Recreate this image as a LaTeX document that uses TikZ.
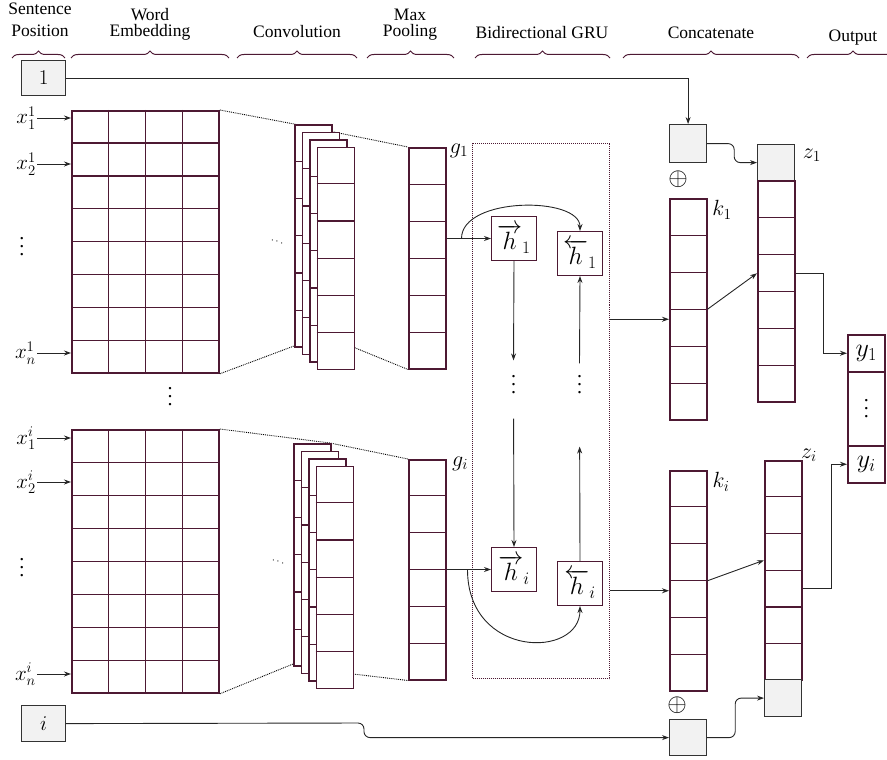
\RequirePackage{fix-cm}
\documentclass[tikz,border=0pt]{standalone}
\usepackage[no-math]{fontspec}
\setmainfont{Liberation Serif}
\usetikzlibrary{calc, arrows.meta, decorations.pathreplacing}

\definecolor{wine}{RGB}{77,25,51}
\definecolor{cellgray}{RGB}{242,242,242}

\tikzset{
  vec/.style={draw=wine, line width=1.5pt, fill=white, anchor=north west,
    inner sep=0pt, minimum width=37pt},
  gridline/.style={draw=wine, line width=1.1pt},
  grey/.style={draw=black!80, line width=1.2pt, fill=cellgray, anchor=north west,
    inner sep=0pt, minimum width=37pt, minimum height=37pt},
  hbox/.style={draw=wine, line width=1pt, anchor=north west, inner sep=0pt,
    minimum width=45pt, minimum height=44pt, font=\fontsize{25}{27}\selectfont},
  link/.style={draw=black!85, line width=0.9pt, -{Stealth[length=7pt,width=5pt]}},
  dotline/.style={densely dotted, line width=0.9pt},
  brace/.style={decorate, decoration={brace, amplitude=7pt}, draw=wine, line width=1pt},
  head/.style={anchor=base, font=\fontsize{17.5}{20}\selectfont},
  lbl/.style={font=\fontsize{22}{24}\selectfont},
  plus/.style={font=\fontsize{25}{27}\selectfont},
  xlbl/.style={anchor=east, inner sep=1pt, font=\fontsize{21}{23}\selectfont},
  vdot/.style={inner sep=0pt, scale=2, font=\fontsize{10}{12}\selectfont},
}

% split a node into equal rows / columns
\newcommand{\cellrows}[2]{%
  \pgfmathtruncatemacro{\lastcut}{#2-1}%
  \foreach \cut in {1,...,\lastcut}
    \draw[gridline] ($(#1.north west)!\cut/#2!(#1.south west)$) -- ($(#1.north east)!\cut/#2!(#1.south east)$);}
\newcommand{\cellcols}[2]{%
  \pgfmathtruncatemacro{\lastcut}{#2-1}%
  \foreach \cut in {1,...,\lastcut}
    \draw[gridline] ($(#1.north west)!\cut/#2!(#1.north east)$) -- ($(#1.south west)!\cut/#2!(#1.south east)$);}

\begin{document}
\begin{tikzpicture}[x=1pt, y=-1pt]
\useasboundingbox (0,0) rectangle (887,760);

% Column headings
\node[head] (hs1) at (40,15) {Sentence};
\node[head] (hs2) at (40,37) {Position};
\node[head] (hw1) at (150,21) {Word};
\node[head] (hw2) at (150,37) {Embedding};
\node[head] (hc) at (297,38) {Convolution};
\node[head] (hm1) at (410,21) {Max};
\node[head] (hm2) at (410,37) {Pooling};
\node[head] (hb) at (542,39) {Bidirectional GRU};
\node[head] (hk) at (711,39) {Concatenate};
\node[head] (ho) at (853,42) {Output};
\draw[brace] (12,58) -- (65,58);
\draw[brace] (71,58) -- (229,58);
\draw[brace] (237,58) -- (357,58);
\draw[brace] (367,58) -- (454,58);
\draw[brace] (475,58) -- (610,58);
\draw[brace] (623,58) -- (799,58);
\draw[brace] (807,58) -- (899,58);

% Sentence positions
\node[grey, minimum width=44pt, minimum height=35pt, font=\fontsize{21}{23}\selectfont] (pos1) at (21,60) {$1$};
\node[grey, minimum width=44pt, minimum height=36pt, font=\fontsize{21}{23}\selectfont] (posi) at (21,705) {$i$};

% Word embeddings
\node[vec, line width=1.8pt, minimum width=147pt, minimum height=262pt] (emb1) at (71,110) {};
\cellrows{emb1}{8} \cellcols{emb1}{4}
\node[vec, line width=1.8pt, minimum width=147pt, minimum height=263pt] (embi) at (71,429) {};
\cellrows{embi}{8} \cellcols{embi}{4}

% Word inputs
\node[xlbl] (x11) at (37,118) {$x_1^1$};
\node[xlbl] (x12) at (37,164) {$x_2^1$};
\node[xlbl] (x1n) at (37,353) {$x_n^1$};
\node[xlbl] (xi1) at (37,438) {$x_1^i$};
\node[xlbl] (xi2) at (37,482) {$x_2^i$};
\node[xlbl] (xin) at (37,674) {$x_n^i$};
\foreach \w in {x11,x12,x1n,xi1,xi2,xin}
  \draw[link] (\w.east) -- (\w.east -| emb1.west);
\node[vdot] (xd1) at (22,241) {$\vdots$};
\node[vdot] (xdi) at (22,562) {$\vdots$};
\node[vdot] (sd) at (170,391) {$\vdots$};

% Max pooling
\node[vec, minimum height=221pt] (g1) at (408,147) {};
\cellrows{g1}{6}
\node[vec, minimum height=220pt] (gi) at (408,459) {};
\cellrows{gi}{6}
\node[lbl] (g1lab) at (459,151) {$g_1$};
\node[lbl] (gilab) at (460,464) {$g_i$};

% Dotted receptive field
\draw[dotline] (emb1.north east) -- (294,124) -- (g1.north west);
\draw[dotline] (emb1.south east) -- (294,346);
\draw[dotline] (353,347) -- (g1.south west);
\draw[dotline] (embi.north east) -- (330,443) -- (gi.north west);
\draw[dotline] (embi.south east) -- (293,664);
\draw[dotline] (353,674) -- (gi.south west);

% Convolution feature maps
\foreach \s/\d in {a/0,b/7.5,c/15,d/22.5} {
  \node[vec, minimum height=222pt] (c1\s) at (294+\d,124+\d) {};
  \cellrows{c1\s}{6}
  \node[vec, minimum height=222pt] (ci\s) at (293+\d,443+\d) {};
  \cellrows{ci\s}{6}
}
\node[rotate=-20, inner sep=0pt, font=\fontsize{11}{12}\selectfont] (cd1) at (277,242) {$\cdots$};
\node[rotate=-20, inner sep=0pt, font=\fontsize{11}{12}\selectfont] (cdi) at (278,562) {$\cdots$};

% Bidirectional GRU
\node[draw=wine, densely dotted, line width=1pt, anchor=north west, inner sep=0pt,
  minimum width=137pt, minimum height=535pt] (gru) at (472,143) {};
\node[hbox] (hf1) at (491,216) {$\overrightarrow{h}_1$};
\node[hbox] (hb1) at (557,231) {$\overleftarrow{h}_1$};
\node[hbox] (hfi) at (491,547) {$\overrightarrow{h}_i$};
\node[hbox] (hbi) at (557,561) {$\overleftarrow{h}_i$};
\node[vdot] (vdf) at (513.5,379) {$\vdots$};
\node[vdot] (vdb) at (579.5,379) {$\vdots$};
\draw[link] (g1.east |- hf1.west) -- (hf1.west);
\coordinate (sp1) at ($(g1.east |- hf1.west)+(15,0)$);
\draw[link] (sp1) .. controls +(0,-42) and +(0,-35) .. (hb1.north);
\draw[link] (gi.east |- hfi.west) -- (hfi.west);
\coordinate (spi) at ($(gi.east |- hfi.west)+(21,0)$);
\draw[link] (spi) .. controls +(0,89) and +(0,53) .. (hbi.south);
\draw[link, shorten >=3pt] (hf1.south) -- (vdf.north);
\draw[link, shorten <=24pt] (vdf.south) -- (hfi.north);
\draw[link] (vdb.north) -- (hb1.south);
\draw[link, shorten >=52pt] (hbi.north) -- (vdb.south);

% Concatenate
\node[grey, minimum height=38pt] (add1) at (669,124) {};
\node[plus] (op1) at (678,179) {$\oplus$};
\node[vec, minimum height=221pt] (k1) at (669,198) {};
\cellrows{k1}{6}
\node[lbl] (k1lab) at (722,210) {$k_1$};
\node[grey, minimum height=36pt] (z1h) at (757,144) {};
\node[vec, minimum height=221pt] (z1) at (757,180) {};
\cellrows{z1}{6}
\node[lbl] (z1lab) at (812,155) {$z_1$};

\node[vec, minimum height=220pt] (ki) at (669,470) {};
\cellrows{ki}{6}
\node[lbl] (kilab) at (721,482) {$k_i$};
\node[plus] (opi) at (677,705) {$\oplus$};
\node[grey, minimum height=36pt] (addi) at (669,719) {};
\node[vec, minimum height=219pt] (zi) at (764,460) {};
\cellrows{zi}{6}
\node[grey, minimum height=37pt] (zih) at (764,679) {};
\node[lbl] (zilab) at (809,455) {$z_i$};

\coordinate (k1in) at ($(k1.west)+(0,10)$);
\coordinate (kiin) at ($(ki.west)+(0,10)$);
\draw[link] (gru.east |- k1in) -- (k1in);
\draw[link] (gru.east |- kiin) -- (kiin);
\draw[link] (k1.east) -- ($(z1.west)+(0,-18)$);
\draw[link] (ki.east) -- ($(zi.west)+(0,-10)$);
\draw[link] (pos1.east) -| (add1.north);
\draw[link, rounded corners=6pt] (add1.east) -- ++(27,0) |- (z1h.west);
\draw[link, rounded corners=6pt] (posi.east) -- (364,723) |- (addi.west);
\draw[link, rounded corners=6pt] (addi.east) -- ++(28,0) |- (zih.west);

% Output
\node[vec, minimum height=37pt, font=\fontsize{26}{28}\selectfont] (y1) at (847,334) {$y_1$};
\node[vec, minimum height=74pt] (yd) at (847,371) {};
\node[vdot] (ydots) at ([yshift=6pt]yd.center) {$\vdots$};
\node[vec, minimum height=37pt, font=\fontsize{26}{28}\selectfont] (yi) at (847,445) {$y_i$};
\draw[link] ($(z1.east)+(0,-18)$) -- ++(28,0) |- (y1.west);
\draw[link] ($(zi.east)+(0,18)$) -- ++(29,0) |- (yi.west);
\end{tikzpicture}
\end{document}
